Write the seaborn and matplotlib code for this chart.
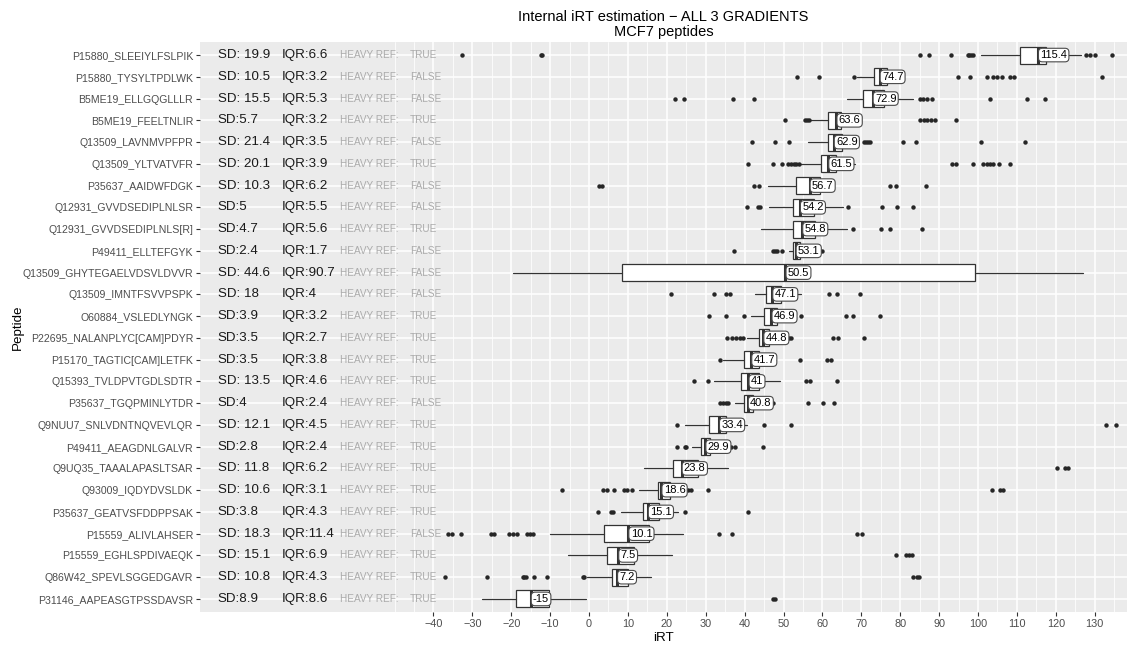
import numpy as np
import pandas as pd
import matplotlib
matplotlib.use("Agg")
import matplotlib.pyplot as plt
import seaborn as sns

# ---------------- data ----------------
peptides = [
    "P15880_SLEEIYLFSLPIK", "P15880_TYSYLTPDLWK", "B5ME19_ELLGQGLLLR", "B5ME19_FEELTNLIR",
    "Q13509_LAVNMVPFPR", "Q13509_YLTVATVFR", "P35637_AAIDWFDGK", "Q12931_GVVDSEDIPLNLSR",
    "Q12931_GVVDSEDIPLNLS[R]", "P49411_ELLTEFGYK", "Q13509_GHYTEGAELVDSVLDVVR",
    "Q13509_IMNTFSVVPSPK", "O60884_VSLEDLYNGK", "P22695_NALANPLYC[CAM]PDYR",
    "P15170_TAGTIC[CAM]LETFK", "Q15393_TVLDPVTGDLSDTR", "P35637_TGQPMINLYTDR",
    "Q9NUU7_SNLVDNTNQVEVLQR", "P49411_AEAGDNLGALVR", "Q9UQ35_TAAALAPASLTSAR",
    "Q93009_IQDYDVSLDK", "P35637_GEATVSFDDPPSAK", "P15559_ALIVLAHSER",
    "P15559_EGHLSPDIVAEQK", "Q86W42_SPEVLSGGEDGAVR", "P31146_AAPEASGTPSSDAVSR",
]
sd = [19.9, 10.5, 15.5, 5.7, 21.4, 20.1, 10.3, 5, 4.7, 2.4, 44.6, 18, 3.9, 3.5, 3.5,
      13.5, 4, 12.1, 2.8, 11.8, 10.6, 3.8, 18.3, 15.1, 10.8, 8.9]
iqr = [6.6, 3.2, 5.3, 3.2, 3.5, 3.9, 6.2, 5.5, 5.6, 1.7, 90.7, 4, 3.2, 2.7, 3.8,
       4.6, 2.4, 4.5, 2.4, 6.2, 3.1, 4.3, 11.4, 6.9, 4.3, 8.6]
heavy_ref = ["TRUE", "FALSE", "FALSE", "TRUE", "FALSE", "TRUE", "FALSE", "FALSE", "TRUE",
             "FALSE", "FALSE", "FALSE", "TRUE", "TRUE", "TRUE", "TRUE", "FALSE", "TRUE",
             "TRUE", "TRUE", "TRUE", "TRUE", "FALSE", "TRUE", "TRUE", "TRUE"]
median = [115.4, 74.7, 72.9, 63.6, 62.9, 61.5, 56.7, 54.2, 54.8, 53.1, 50.5, 47.1, 46.9,
          44.8, 41.7, 41, 40.8, 33.4, 29.9, 23.8, 18.6, 15.1, 10.1, 7.5, 7.2, -15]
q1 = [110.8, 73.3, 70.5, 61.5, 61.5, 59.6, 53.1, 52.4, 52.5, 52.5, 8.4, 45.4, 45.0,
      43.6, 39.8, 39.1, 39.8, 30.8, 28.7, 21.7, 17.7, 13.8, 3.9, 4.7, 5.8, -18.8]
q3 = [117.4, 76.5, 75.8, 64.7, 65.0, 63.5, 59.3, 57.9, 58.1, 54.2, 99.1, 49.4, 48.2,
      46.3, 43.6, 43.7, 42.2, 35.3, 31.1, 27.9, 20.8, 18.1, 15.3, 11.6, 10.1, -10.2]
whisker_low = [100.8, 69.0, 66.2, 56.8, 56.4, 54.2, 46.1, 46.3, 44.2, 51.5, -19.5, 42.8,
               41.6, 40.5, 34.5, 32.2, 37.5, 24.8, 26.4, 14.1, 12.9, 8.1, -10.0, -5.3,
               -0.6, -27.6]
whisker_high = [126.5, 78.0, 83.4, 66.5, 68.0, 68.4, 63.0, 65.2, 66.4, 56.5, 126.9, 54.5,
                52.0, 49.5, 48.0, 49.1, 45.0, 40.6, 34.5, 35.7, 24.5, 23.0, 24.1, 21.4,
                15.9, -0.9]
outliers = [
    [-32.6, -12.4, -12.0, 85.1, 87.4, 93.1, 97.4, 97.8, 98.2, 98.7, 127.8, 128.9, 130.0, 134.4],
    [53.4, 59.0, 68.1, 94.9, 97.9, 102.4, 103.9, 105.0, 106.1, 108.2, 109.3, 132.0],
    [22.0, 24.4, 36.9, 42.4, 85.1, 85.9, 86.8, 88.1, 103.2, 112.7, 117.3],
    [50.4, 55.5, 56.0, 56.6, 85.1, 86.0, 86.8, 87.8, 88.9, 94.3],
    [42.0, 47.8, 51.3, 70.7, 71.2, 71.7, 72.3, 80.8, 84.1, 100.8, 112.1],
    [40.8, 47.4, 49.5, 51.2, 51.9, 52.6, 53.3, 54.0, 93.2, 94.3, 98.6, 101.4, 102.2, 103.1,
     103.8, 105.5, 108.2],
    [2.6, 3.3, 42.5, 43.8, 77.5, 78.9, 86.6],
    [40.5, 43.4, 44.0, 66.7, 75.4, 79.3, 83.4],
    [67.8, 75.1, 77.4, 85.7],
    [37.4, 47.2, 47.8, 48.4, 49.5, 59.8],
    [],
    [21.0, 32.2, 35.1, 36.2, 61.7, 63.7, 69.7],
    [30.8, 35.1, 39.9, 54.4, 66.0, 67.9, 74.8],
    [35.6, 36.7, 37.7, 38.8, 39.5, 51.4, 51.9, 62.6, 64.1, 70.7],
    [33.7, 54.2, 61.1, 62.1],
    [27.0, 30.5, 55.8, 56.8, 63.8],
    [33.7, 34.4, 35.1, 35.8, 47.2, 56.4, 60.1, 63.1],
    [22.6, 44.9, 51.9, 133.0, 135.6],
    [22.6, 24.6, 24.9, 36.5, 37.5, 44.6],
    [120.2, 122.3, 123.1],
    [-6.9, 3.7, 4.7, 6.5, 9.0, 9.8, 11.0, 25.5, 26.1, 30.7, 103.5, 105.7, 106.3],
    [2.2, 5.6, 6.2, 24.8, 40.8],
    [-36.2, -35.3, -32.9, -25.2, -24.4, -20.5, -19.5, -18.4, -16.0, -15.2, -14.5, 33.4,
     36.8, 69.0, 70.1],
    [78.8, 81.4, 82.3, 83.1],
    [-37.0, -26.1, -17.0, -16.7, -16.2, -14.1, -10.9, -1.6, -1.3, 83.2, 84.4, 84.9],
    [47.3, 47.8],
]
x_breaks = list(range(-40, 131, 10))
title_lines = ["Internal iRT estimation \u2212 ALL 3 GRADIENTS", "MCF7 peptides"]

# ---------------- style ----------------
sns.set_theme(style="darkgrid", rc={
    "axes.facecolor": "#EBEBEB",
    "grid.color": "white",
    "axes.edgecolor": "#EBEBEB",
    "xtick.color": "#333333",
    "ytick.color": "#333333",
    "xtick.labelcolor": "#4D4D4D",
    "ytick.labelcolor": "#4D4D4D",
    "xtick.major.size": 3,
    "ytick.major.size": 3,
    "xtick.major.width": 0.8,
    "ytick.major.width": 0.8,
    "xtick.bottom": True,
    "ytick.left": True,
})
plt.rcParams["font.family"] = ["Liberation Sans", "DejaVu Sans"]

fig = plt.figure(figsize=(11.27, 6.49), dpi=100)
ax = fig.add_axes([200 / 1127, 1 - 612 / 649, 927 / 1127, 570 / 649])

n = len(peptides)

# outliers (seaborn)
long = pd.DataFrame(
    [(p, v) for p, vals in zip(peptides, outliers) for v in vals],
    columns=["Peptide", "iRT"],
)
sns.stripplot(data=long, x="iRT", y="Peptide", order=peptides, jitter=False,
              color="#262626", size=3.2, linewidth=0, ax=ax, zorder=3)

# boxes from the summary statistics
stats = [dict(med=m, q1=a, q3=b, whislo=lo, whishi=hi, fliers=[])
         for m, a, b, lo, hi in zip(median, q1, q3, whisker_low, whisker_high)]
ax.bxp(stats, positions=np.arange(n), orientation="horizontal", widths=0.78,
       showfliers=False, showcaps=False, patch_artist=True,
       boxprops=dict(facecolor="white", edgecolor="#333333", linewidth=0.9),
       medianprops=dict(color="#333333", linewidth=2.2, solid_capstyle="butt"),
       whiskerprops=dict(color="#333333", linewidth=0.9),
       manage_ticks=False, zorder=2)

# median labels
for i, m in enumerate(median):
    ax.text(m + 0.6, i, f"{m:g}", ha="left", va="center", fontsize=8, color="black",
            zorder=5,
            bbox=dict(boxstyle="round,pad=0.16,rounding_size=0.35", fc="white",
                      ec="#4a4a4a", lw=0.8))

# stats text columns
for i in range(n):
    s = sd[i]
    sd_txt = f"SD: {s:g}" if s >= 10 else f"SD:{s:g}"
    ax.text(-95.4, i, sd_txt, ha="left", va="center", fontsize=9.6, color="#1a1a1a")
    ax.text(-78.9, i, f"IQR:{iqr[i]:g}", ha="left", va="center", fontsize=9.6,
            color="#1a1a1a")
    ax.text(-64.0, i, "HEAVY REF:", ha="left", va="center", fontsize=7.2, color="#ABABAB")
    ax.text(-46.0, i, heavy_ref[i], ha="left", va="center", fontsize=7.2, color="#ABABAB")

# axes / grid
ax.set_xlim(-100.0, 138.3)
ax.set_ylim(n - 1 + 0.6, -0.6)
ax.set_xticks(x_breaks)
ax.set_xticks([v for v in np.arange(-50, 136, 5) if v not in x_breaks], minor=True)
ax.grid(which="major", color="white", linewidth=1.1)
ax.grid(which="minor", axis="x", color="white", linewidth=0.55)
ax.tick_params(which="minor", length=0)
ax.tick_params(axis="x", labelsize=7.8, pad=2)
ax.tick_params(axis="y", labelsize=7.6, pad=2)
ax.set_yticks(np.arange(n))
ax.set_yticklabels(peptides)
for sp in ax.spines.values():
    sp.set_visible(False)

ax.set_xlabel("iRT", fontsize=9.6, color="black", labelpad=2)
ax.set_ylabel("Peptide", fontsize=9.6, color="black", labelpad=-1)
ax.set_title("\n".join(title_lines), fontsize=10.5, color="black", pad=4,
             linespacing=1.15)

fig.savefig("out.png", dpi=100, facecolor="white")
